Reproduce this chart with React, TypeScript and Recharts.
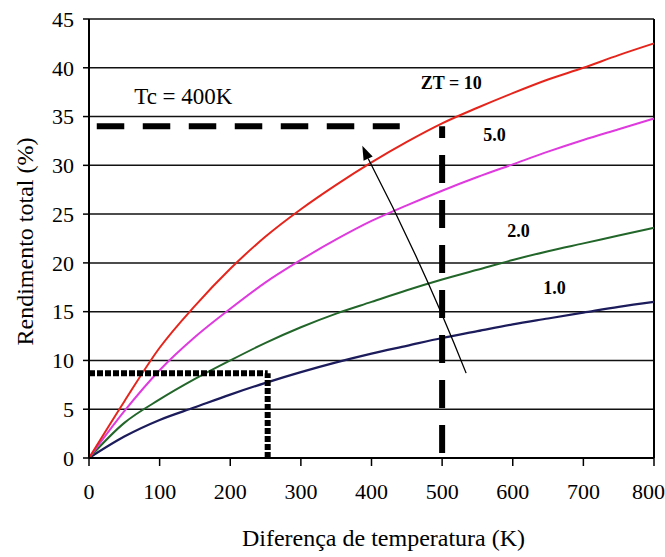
import React from 'react';
import { LineChart, Line, XAxis, YAxis, CartesianGrid, ReferenceLine, ReferenceDot } from 'recharts';

const temps = [0, 50, 100, 150, 200, 250, 300, 350, 400, 450, 500, 550, 600, 650, 700, 750, 800];
const zt10 = [0, 5.8, 11.3, 15.6, 19.4, 22.7, 25.5, 28.0, 30.3, 32.4, 34.3, 35.9, 37.4, 38.8, 40.0, 41.3, 42.5];
const zt5 = [0, 4.8, 9.0, 12.4, 15.3, 18.0, 20.3, 22.4, 24.3, 25.9, 27.4, 28.8, 30.1, 31.4, 32.6, 33.7, 34.8];
const zt2 = [0, 3.6, 6.0, 8.1, 10.0, 11.8, 13.4, 14.8, 16.0, 17.2, 18.3, 19.3, 20.3, 21.2, 22.0, 22.8, 23.6];
const zt1 = [0, 2.2, 3.9, 5.2, 6.5, 7.7, 8.8, 9.8, 10.7, 11.5, 12.3, 13.0, 13.7, 14.3, 14.9, 15.5, 16.0];

const xTicks = [0, 100, 200, 300, 400, 500, 600, 700, 800];
const yTicks = [0, 5, 10, 15, 20, 25, 30, 35, 40, 45];

const dashedH = [{ x: 11, y: 34 }, { x: 440, y: 34 }];
const dashedV = [{ x: 500, y: 0 }, { x: 500, y: 34 }];
const dottedH = [{ x: 0, y: 8.7 }, { x: 253, y: 8.7 }];
const dottedV = [{ x: 253, y: 0 }, { x: 253, y: 8.7 }];
const arrowPts = [{ x: 534, y: 8.7 }, { x: 387, y: 32 }];

const labels = [
  { x: 64, y: 37.1, text: 'Tc = 400K', bold: false, size: 23, anchor: 'right' },
  { x: 513, y: 38.5, text: 'ZT = 10', bold: true, size: 18, anchor: 'center' },
  { x: 574, y: 33.2, text: '5.0', bold: true, size: 18, anchor: 'center' },
  { x: 608, y: 23.3, text: '2.0', bold: true, size: 18, anchor: 'center' },
  { x: 659, y: 17.45, text: '1.0', bold: true, size: 18, anchor: 'center' },
];

const data = temps.map((t, i) => ({ t, zt10: zt10[i], zt5: zt5[i], zt2: zt2[i], zt1: zt1[i] }));

const FONT = 'Liberation Serif';

const ArrowShape = (p: any) => {
  const { x1, y1, x2, y2 } = p;
  if ([x1, y1, x2, y2].some((v) => typeof v !== 'number')) return null;
  const ang = Math.atan2(y2 - y1, x2 - x1);
  const L = 14;
  const W = 5;
  const bx = x2 - L * Math.cos(ang);
  const by = y2 - L * Math.sin(ang);
  const px = -Math.sin(ang) * W;
  const py = Math.cos(ang) * W;
  const mx = (x1 + bx) / 2 + Math.sin(ang) * -6;
  const my = (y1 + by) / 2 - Math.cos(ang) * -6;
  return (
    <g>
      <path d={`M${x1},${y1} Q${mx},${my} ${bx},${by}`} stroke="#000" strokeWidth={1.3} fill="none" />
      <polygon points={`${x2},${y2} ${bx + px},${by + py} ${bx - px},${by - py}`} fill="#000" />
    </g>
  );
};

export default function App() {
  return (
    <div style={{ position: 'absolute', left: 0, top: 0, background: '#fff', fontFamily: FONT }}>
      <LineChart width={665} height={557} data={data} margin={{ top: 19, right: 11, bottom: 0, left: 0 }} style={{ fontFamily: FONT }}>
        <CartesianGrid vertical={false} stroke="#111" strokeWidth={1.5} />
        <XAxis
          dataKey="t"
          type="number"
          domain={[0, 800]}
          ticks={xTicks}
          height={99}
          tickSize={8}
          tickMargin={17}
          tick={{ fill: '#000', fontSize: 22, fontFamily: FONT }}
          axisLine={{ stroke: '#000', strokeWidth: 2 }}
          tickLine={{ stroke: '#000', strokeWidth: 1.5 }}
          label={{ value: 'Diferença de temperatura (K)', position: 'insideBottom', offset: 11, dx: 12, fill: '#000', fontSize: 24, fontFamily: FONT }}
        />
        <YAxis
          type="number"
          domain={[0, 45]}
          ticks={yTicks}
          width={89}
          tickSize={6}
          tickMargin={9}
          tick={{ fill: '#000', fontSize: 22, fontFamily: FONT }}
          axisLine={{ stroke: '#000', strokeWidth: 2 }}
          tickLine={{ stroke: '#000', strokeWidth: 1.5 }}
          label={{ value: 'Rendimento total (%)', angle: -90, position: 'insideLeft', offset: 24, textAnchor: 'middle', dy: 3, fill: '#000', fontSize: 24, fontFamily: FONT }}
        />
        <ReferenceLine x={800} stroke="#000" strokeWidth={2} />
        <Line type="monotone" dataKey="zt1" stroke="#1c1c5c" strokeWidth={2.2} dot={false} isAnimationActive={false} />
        <Line type="monotone" dataKey="zt2" stroke="#22662a" strokeWidth={2} dot={false} isAnimationActive={false} />
        <Line type="monotone" dataKey="zt5" stroke="#de3ade" strokeWidth={2} dot={false} isAnimationActive={false} />
        <Line type="monotone" dataKey="zt10" stroke="#e5251c" strokeWidth={2} dot={false} isAnimationActive={false} />
        <ReferenceLine segment={dashedH} stroke="#000" strokeWidth={6} strokeDasharray="27.5 18.5" />
        <ReferenceLine segment={dashedV} stroke="#000" strokeWidth={6} strokeDasharray="28 17" strokeDashoffset={40} />
        <ReferenceLine segment={dottedH} stroke="#000" strokeWidth={6} strokeDasharray="6 2" />
        <ReferenceLine segment={dottedV} stroke="#000" strokeWidth={6} strokeDasharray="6 2" />
        <ReferenceLine segment={arrowPts} shape={ArrowShape} />
        {labels.map((l) => (
          <ReferenceDot
            key={l.text}
            x={l.x}
            y={l.y}
            r={0}
            fill="none"
            stroke="none"
            ifOverflow="visible"
            label={{
              value: l.text,
              position: l.anchor as any,
              offset: 0,
              fill: '#000',
              fontSize: l.size,
              fontWeight: l.bold ? 'bold' : 'normal',
              fontFamily: FONT,
            }}
          />
        ))}
      </LineChart>
    </div>
  );
}
